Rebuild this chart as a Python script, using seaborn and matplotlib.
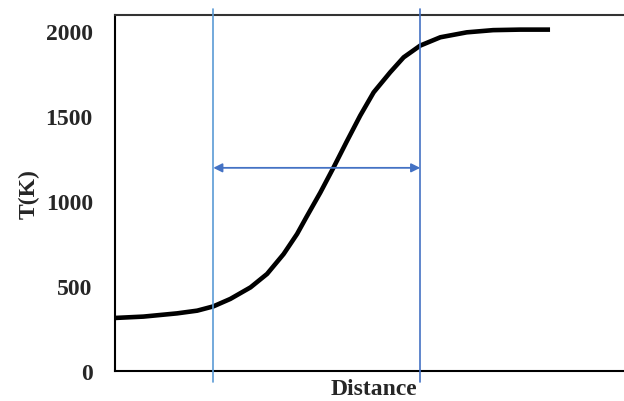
import matplotlib
matplotlib.use("Agg")
import matplotlib.pyplot as plt
import seaborn as sns
import pandas as pd

# Data
distance = [0.1, 0.65, 1.3, 1.69, 2.0, 2.33, 2.72, 3.04, 3.36, 3.62, 3.8, 4.07,
            4.33, 4.58, 4.84, 5.1, 5.42, 5.68, 6.0, 6.39, 6.9, 7.41, 7.93, 8.51]
temperature = [312, 320, 339, 355, 380, 424, 492, 571, 688, 806, 905, 1050,
               1200, 1350, 1502, 1639, 1757, 1845, 1914, 1963, 1992, 2005, 2008, 2008]
yticks = [0, 500, 1000, 1500, 2000]
marker_lines = [2.0, 6.0]
arrow_level = 1195

sns.set_theme(style="white")
plt.rcParams["font.family"] = ["Liberation Serif", "DejaVu Serif"]
plt.rcParams["font.weight"] = "bold"

fig = plt.figure(figsize=(6.24, 4.02), dpi=100)
ax = fig.add_axes([115 / 624, 30 / 402, 509 / 624, 356 / 402])

df = pd.DataFrame({"Distance": distance, "T": temperature})
sns.lineplot(data=df, x="Distance", y="T", ax=ax, color="black", lw=3.3,
             solid_capstyle="butt", solid_joinstyle="round", sort=False)

ax.set_xlim(0.1, 9.94)
ax.set_ylim(0, 2094)
ax.set_yticks(yticks)
ax.set_yticklabels([str(v) for v in yticks], fontsize=17, fontweight="bold")
ax.set_xticks([])
ax.tick_params(axis="y", length=0, pad=16)

for s in ["top", "left", "bottom"]:
    ax.spines[s].set_visible(True)
    ax.spines[s].set_color("black")
    ax.spines[s].set_linewidth(1.5)
ax.spines["top"].set_color("#333333")
ax.spines["right"].set_visible(False)

line_colors = ["#5B9BD5", "#4472C4"]
for xv, c in zip(marker_lines, line_colors):
    ax.axvline(xv, ymin=-0.031, ymax=1.017, color=c, lw=1.2, clip_on=False, zorder=3)

ax.annotate("", xy=(marker_lines[0], arrow_level), xytext=(marker_lines[1], arrow_level),
            arrowprops=dict(arrowstyle="<|-|>", color="#4472C4", lw=1.3,
                            mutation_scale=13, shrinkA=0, shrinkB=0), zorder=4)

ax.set_ylabel("T(K)", fontsize=17, fontweight="bold", labelpad=4)
ax.set_xlabel("Distance", fontsize=17, fontweight="bold", labelpad=5)
ax.xaxis.label.set_x(0.509)

fig.savefig("out.png", dpi=100)
